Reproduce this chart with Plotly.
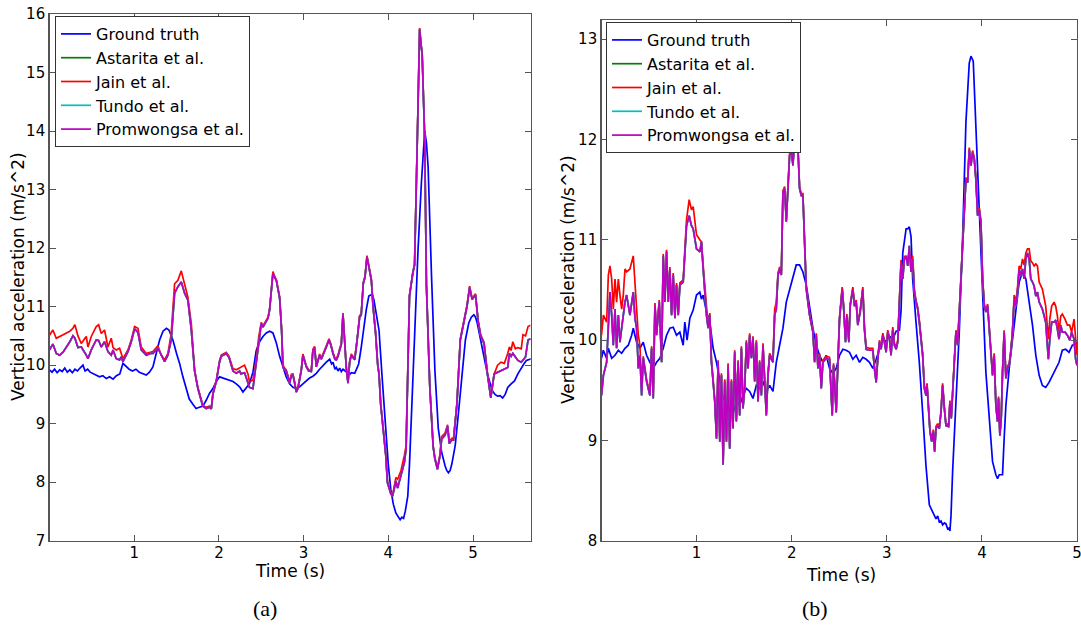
import plotly.graph_objects as go

# ---------------- (a) left panel data ----------------
t_gt_a = [0.00, 0.03, 0.06, 0.09, 0.12, 0.15, 0.18, 0.21, 0.24, 0.27,
          0.30, 0.33, 0.36, 0.395, 0.42, 0.45, 0.48, 0.51, 0.55, 0.59,
          0.63, 0.67, 0.71, 0.75, 0.79, 0.83, 0.867, 0.90, 0.94, 0.98,
          1.02, 1.06, 1.10, 1.142, 1.18, 1.221, 1.26, 1.30, 1.34, 1.38,
          1.41, 1.457, 1.50, 1.536, 1.575, 1.615, 1.65, 1.693, 1.73, 1.77,
          1.811, 1.85, 1.89, 1.929, 1.969, 2.008, 2.05, 2.087, 2.13, 2.166,
          2.205, 2.244, 2.284, 2.32, 2.36, 2.402, 2.441, 2.48, 2.52, 2.56,
          2.599, 2.638, 2.678, 2.717, 2.756, 2.795, 2.835, 2.874, 2.913, 2.953,
          2.992, 3.032, 3.07, 3.11, 3.15, 3.189, 3.23, 3.268, 3.308, 3.33,
          3.347, 3.37, 3.386, 3.406, 3.426, 3.445, 3.465, 3.504, 3.544, 3.563,
          3.603, 3.63, 3.65, 3.68, 3.71, 3.74, 3.77, 3.79, 3.81, 3.83,
          3.85, 3.89, 3.93, 3.97, 4.00, 4.03, 4.06, 4.09, 4.12, 4.14,
          4.16, 4.18, 4.20, 4.23, 4.25, 4.27, 4.31, 4.35, 4.39, 4.43,
          4.45, 4.47, 4.51, 4.55, 4.59, 4.63, 4.67, 4.69, 4.71, 4.73,
          4.75, 4.79, 4.83, 4.87, 4.91, 4.95, 4.98, 5.01, 5.03, 5.05,
          5.08, 5.11, 5.14, 5.17, 5.20, 5.23, 5.26, 5.29, 5.32, 5.35,
          5.38, 5.41, 5.45, 5.49, 5.53, 5.57, 5.60, 5.63, 5.66, 5.69]
gt_a = [9.92, 9.88, 9.93, 9.87, 9.92, 9.89, 9.95, 9.88, 9.92, 9.87,
        9.93, 9.90, 9.95, 10.00, 9.90, 9.93, 9.88, 9.86, 9.83, 9.80,
        9.82, 9.77, 9.80, 9.76, 9.82, 9.85, 10.03, 9.98, 9.93, 9.90,
        9.93, 9.88, 9.86, 9.83, 9.88, 9.97, 10.20, 10.43, 10.58, 10.63,
        10.60, 10.43, 10.20, 10.03, 9.80, 9.60, 9.42, 9.33, 9.26, 9.28,
        9.30, 9.40, 9.52, 9.60, 9.72, 9.80, 9.78, 9.77, 9.74, 9.72,
        9.68, 9.63, 9.54, 9.60, 9.68, 9.88, 10.25, 10.40, 10.49, 10.55,
        10.58, 10.55, 10.38, 10.15, 9.97, 9.80, 9.68, 9.62, 9.60, 9.63,
        9.68, 9.73, 9.78, 9.81, 9.86, 9.93, 10.00, 10.05, 10.10, 10.02,
        10.05, 9.93, 9.96, 9.90, 9.95, 9.89, 9.93, 9.88, 9.84, 9.87,
        9.86, 9.95, 10.02, 10.30, 10.66, 10.95, 11.18, 11.20, 11.21, 11.12,
        10.95, 10.60, 9.73, 8.86, 8.30, 7.87, 7.62, 7.47, 7.40, 7.36,
        7.40, 7.38, 7.50, 7.76, 8.30, 9.04, 10.78, 11.94, 13.10, 14.00,
        13.80, 13.39, 11.53, 9.91, 8.92, 8.51, 8.28, 8.20, 8.16, 8.20,
        8.31, 8.63, 9.21, 9.85, 10.43, 10.72, 10.82, 10.86, 10.82, 10.72,
        10.50, 10.31, 10.10, 9.85, 9.70, 9.56, 9.50, 9.47, 9.48, 9.44,
        9.50, 9.62, 9.68, 9.73, 9.85, 9.96, 10.02, 10.08, 10.10, 10.11]

t_est_a = [0.00, 0.04, 0.08, 0.12, 0.16, 0.20, 0.24, 0.277, 0.30, 0.336,
           0.375, 0.434, 0.454, 0.493, 0.552, 0.58, 0.611, 0.65, 0.69, 0.729,
           0.75, 0.788, 0.827, 0.847, 0.867, 0.926, 0.965, 1.005, 1.044, 1.083,
           1.142, 1.19, 1.221, 1.28, 1.319, 1.359, 1.398, 1.437, 1.477, 1.516,
           1.556, 1.575, 1.595, 1.634, 1.674, 1.713, 1.733, 1.752, 1.79, 1.811,
           1.851, 1.89, 1.91, 1.929, 1.969, 2.008, 2.028, 2.087, 2.12, 2.146,
           2.166, 2.205, 2.244, 2.26, 2.303, 2.343, 2.36, 2.402, 2.441, 2.47,
           2.50, 2.52, 2.54, 2.58, 2.599, 2.638, 2.658, 2.678, 2.697, 2.717,
           2.74, 2.756, 2.776, 2.795, 2.815, 2.835, 2.855, 2.874, 2.893, 2.913,
           2.933, 2.953, 2.972, 2.992, 3.012, 3.032, 3.06, 3.091, 3.11, 3.13,
           3.15, 3.17, 3.189, 3.209, 3.24, 3.268, 3.30, 3.32, 3.347, 3.37,
           3.386, 3.406, 3.426, 3.445, 3.465, 3.485, 3.504, 3.524, 3.544, 3.563,
           3.583, 3.603, 3.63, 3.662, 3.68, 3.705, 3.725, 3.748, 3.768, 3.788,
           3.80, 3.82, 3.85, 3.875, 3.89, 3.91, 3.95, 3.97, 3.99, 4.03,
           4.05, 4.09, 4.11, 4.15, 4.19, 4.21, 4.25, 4.29, 4.31, 4.34,
           4.37, 4.385, 4.40, 4.43, 4.45, 4.49, 4.53, 4.55, 4.58, 4.61,
           4.63, 4.67, 4.70, 4.72, 4.75, 4.77, 4.81, 4.85, 4.89, 4.93,
           4.96, 4.99, 5.03, 5.06, 5.09, 5.13, 5.17, 5.21, 5.25, 5.29,
           5.33, 5.37, 5.41, 5.43, 5.45, 5.47, 5.50, 5.53, 5.57, 5.59,
           5.62, 5.65, 5.68]
promwongsa_a = [10.26, 10.36, 10.20, 10.17, 10.22, 10.30, 10.40, 10.50, 10.46, 10.30,
                10.31, 10.17, 10.11, 10.26, 10.43, 10.42, 10.31, 10.40, 10.23, 10.17,
                10.26, 10.11, 10.09, 10.14, 10.06, 10.23, 10.40, 10.62, 10.56, 10.26,
                10.17, 10.20, 10.20, 10.29, 10.17, 10.06, 10.17, 10.43, 11.23, 11.34,
                11.42, 11.30, 11.23, 11.11, 10.60, 9.90, 9.75, 9.60, 9.40, 9.30,
                9.26, 9.28, 9.25, 9.50, 9.72, 10.06, 10.15, 10.20, 10.13, 10.00,
                9.90, 9.86, 9.90, 9.85, 9.87, 9.70, 9.62, 9.60, 10.07, 10.45,
                10.71, 10.65, 10.70, 10.80, 10.95, 11.57, 11.50, 11.45, 11.30, 11.15,
                10.60, 9.97, 9.92, 9.90, 9.80, 9.69, 9.82, 9.83, 9.70, 9.54,
                9.60, 9.74, 9.90, 10.17, 10.05, 9.97, 9.90, 9.89, 10.25, 10.30,
                9.97, 10.10, 10.17, 10.10, 10.20, 10.31, 10.43, 10.35, 10.20, 10.10,
                10.09, 10.15, 10.26, 10.35, 10.87, 10.30, 9.95, 9.69, 10.05, 10.17,
                10.12, 10.09, 10.40, 10.83, 10.85, 11.40, 11.50, 11.85, 11.70, 11.56,
                11.45, 11.00, 10.54, 10.00, 9.85, 9.33, 8.80, 8.46, 7.99, 7.80,
                7.76, 8.02, 7.90, 8.11, 8.34, 8.57, 11.18, 11.59, 11.71, 13.68,
                15.74, 15.50, 15.30, 13.85, 11.36, 9.62, 8.60, 8.40, 8.22, 8.45,
                8.74, 8.80, 8.95, 8.66, 8.72, 8.72, 9.33, 10.43, 10.75, 11.01,
                11.33, 11.12, 11.20, 10.75, 10.50, 10.37, 9.85, 9.44, 9.85, 9.88,
                9.91, 9.93, 9.96, 10.20, 10.15, 10.20, 10.14, 10.08, 10.05, 10.09,
                10.14, 10.43, 10.45]
jain_a = [10.51, 10.60, 10.46, 10.49, 10.52, 10.54, 10.58, 10.63, 10.69, 10.50,
          10.37, 10.49, 10.31, 10.49, 10.66, 10.69, 10.54, 10.60, 10.31, 10.46,
          10.30, 10.26, 10.29, 10.20, 10.11, 10.26, 10.43, 10.66, 10.63, 10.31,
          10.20, 10.22, 10.23, 10.33, 10.17, 10.09, 10.20, 10.54, 11.39, 11.45,
          11.61, 11.50, 11.39, 11.16, 10.71, 9.92, 9.76, 9.62, 9.42, 9.31,
          9.28, 9.30, 9.26, 9.52, 9.74, 10.08, 10.17, 10.22, 10.15, 10.03,
          9.94, 9.92, 9.95, 9.97, 10.00, 9.85, 9.72, 9.74, 10.10, 10.48,
          10.73, 10.67, 10.72, 10.82, 10.97, 11.60, 11.52, 11.46, 11.32, 11.17,
          10.62, 10.00, 9.95, 9.92, 9.82, 9.71, 9.84, 9.85, 9.72, 9.56,
          9.62, 9.76, 9.92, 10.19, 10.07, 9.99, 9.92, 9.91, 10.27, 10.32,
          9.99, 10.12, 10.19, 10.12, 10.22, 10.33, 10.45, 10.37, 10.22, 10.12,
          10.11, 10.17, 10.28, 10.37, 10.89, 10.32, 9.97, 9.71, 10.07, 10.19,
          10.14, 10.11, 10.42, 10.85, 10.87, 11.42, 11.52, 11.87, 11.72, 11.58,
          11.47, 11.02, 10.56, 10.02, 9.87, 9.35, 8.82, 8.48, 8.01, 7.82,
          7.78, 8.08, 8.05, 8.20, 8.46, 8.62, 11.20, 11.61, 11.73, 13.70,
          15.76, 15.52, 15.32, 13.87, 11.38, 9.64, 8.62, 8.42, 8.24, 8.48,
          8.78, 8.84, 8.98, 8.70, 8.75, 8.75, 9.35, 10.45, 10.77, 11.03,
          11.35, 11.14, 11.22, 10.77, 10.52, 10.39, 9.87, 9.46, 9.85, 10.00,
          10.05, 10.03, 10.20, 10.31, 10.25, 10.40, 10.28, 10.30, 10.28, 10.52,
          10.50, 10.66, 10.68]
astarita_a = list(promwongsa_a)
tundo_a = list(promwongsa_a)

# ---------------- (b) right panel data ----------------
t_gt_b = [0.0, 0.019, 0.054, 0.072, 0.107, 0.142, 0.177, 0.212, 0.247, 0.282,
          0.317, 0.334, 0.369, 0.404, 0.439, 0.474, 0.509, 0.544, 0.579, 0.614,
          0.649, 0.684, 0.719, 0.754, 0.789, 0.824, 0.859, 0.876, 0.9, 0.929,
          0.964, 0.999, 1.034, 1.051, 1.069, 1.104, 1.139, 1.174, 1.209, 1.244,
          1.279, 1.314, 1.348, 1.383, 1.418, 1.453, 1.488, 1.523, 1.558, 1.593,
          1.628, 1.663, 1.698, 1.733, 1.768, 1.803, 1.838, 1.873, 1.908, 1.943,
          1.978, 2.013, 2.048, 2.083, 2.118, 2.153, 2.188, 2.223, 2.258, 2.293,
          2.328, 2.363, 2.398, 2.433, 2.468, 2.503, 2.538, 2.573, 2.608, 2.643,
          2.678, 2.713, 2.748, 2.783, 2.818, 2.853, 2.888, 2.923, 2.958, 2.993,
          3.028, 3.063, 3.098, 3.133, 3.15, 3.168, 3.203, 3.22, 3.237, 3.255,
          3.272, 3.307, 3.342, 3.377, 3.412, 3.447, 3.482, 3.517, 3.535, 3.552,
          3.57, 3.587, 3.605, 3.622, 3.64, 3.657, 3.664, 3.675, 3.692, 3.727,
          3.762, 3.797, 3.832, 3.867, 3.885, 3.909, 3.937, 3.972, 4.007, 4.042,
          4.077, 4.112, 4.147, 4.165, 4.182, 4.217, 4.234, 4.252, 4.287, 4.322,
          4.357, 4.392, 4.427, 4.462, 4.497, 4.532, 4.567, 4.602, 4.636, 4.671,
          4.706, 4.741, 4.776, 4.811, 4.846, 4.881, 4.916, 4.951, 4.986, 5.0]
gt_b = [9.82, 9.90, 9.82, 9.92, 9.82, 9.85, 9.90, 9.87, 9.92, 9.95,
        10.05, 10.12, 9.98, 9.92, 9.98, 9.85, 9.78, 9.72, 9.78, 9.82,
        9.92, 10.05, 10.12, 10.13, 10.05, 10.08, 9.95, 10.18, 10.00, 10.22,
        10.30, 10.45, 10.48, 10.41, 10.45, 10.28, 10.18, 9.92, 9.78, 9.59,
        9.42, 9.39, 9.32, 9.27, 9.39, 9.35, 9.45, 9.52, 9.49, 9.42,
        9.55, 9.52, 9.59, 9.49, 9.55, 9.49, 9.78, 9.95, 10.12, 10.38,
        10.51, 10.65, 10.75, 10.75, 10.68, 10.55, 10.31, 10.12, 9.95, 9.85,
        9.78, 9.85, 9.72, 9.67, 9.72, 9.85, 9.91, 9.90, 9.88, 9.81,
        9.85, 9.78, 9.83, 9.81, 9.78, 9.72, 9.81, 9.91, 10.01, 9.99,
        10.04, 10.01, 10.09, 10.10, 10.30, 10.87, 11.11, 11.11, 11.13, 11.03,
        10.61, 10.18, 9.78, 9.28, 8.75, 8.36, 8.29, 8.22, 8.25, 8.19,
        8.20, 8.16, 8.18, 8.17, 8.12, 8.13, 8.10, 8.25, 8.69, 9.35,
        10.08, 11.01, 12.17, 12.76, 12.83, 12.78, 12.17, 11.34, 10.48, 9.68,
        9.19, 8.79, 8.66, 8.62, 8.66, 8.66, 9.02, 9.35, 9.72, 10.01,
        10.34, 10.58, 10.68, 10.61, 10.38, 10.15, 9.85, 9.65, 9.55, 9.53,
        9.58, 9.65, 9.72, 9.78, 9.90, 9.91, 9.88, 9.95, 9.96, 9.98]

t_est_b = [0.0, 0.02, 0.054, 0.072, 0.089, 0.107, 0.124, 0.142, 0.159, 0.177,
           0.194, 0.212, 0.229, 0.247, 0.264, 0.299, 0.334, 0.352, 0.369, 0.387,
           0.404, 0.422, 0.439, 0.474, 0.509, 0.527, 0.544, 0.562, 0.579, 0.607,
           0.632, 0.649, 0.667, 0.684, 0.702, 0.719, 0.737, 0.754, 0.772, 0.789,
           0.807, 0.824, 0.859, 0.894, 0.922, 0.946, 0.964, 0.999, 1.034, 1.051,
           1.069, 1.086, 1.104, 1.121, 1.139, 1.156, 1.174, 1.191, 1.209, 1.226,
           1.244, 1.261, 1.279, 1.296, 1.314, 1.331, 1.348, 1.366, 1.383, 1.401,
           1.418, 1.436, 1.453, 1.471, 1.488, 1.506, 1.523, 1.541, 1.558, 1.576,
           1.593, 1.611, 1.628, 1.646, 1.663, 1.681, 1.698, 1.733, 1.751, 1.768,
           1.803, 1.821, 1.838, 1.856, 1.873, 1.891, 1.908, 1.926, 1.943, 1.961,
           1.978, 1.996, 2.013, 2.031, 2.048, 2.066, 2.083, 2.101, 2.118, 2.153,
           2.188, 2.223, 2.241, 2.258, 2.276, 2.293, 2.311, 2.328, 2.363, 2.398,
           2.415, 2.426, 2.44, 2.454, 2.468, 2.485, 2.503, 2.531, 2.545, 2.566,
           2.58, 2.601, 2.615, 2.643, 2.66, 2.678, 2.695, 2.72, 2.748, 2.765,
           2.783, 2.818, 2.853, 2.87, 2.888, 2.905, 2.923, 2.94, 2.958, 2.975,
           2.993, 3.01, 3.028, 3.045, 3.063, 3.08, 3.098, 3.115, 3.133, 3.15,
           3.168, 3.185, 3.203, 3.22, 3.237, 3.255, 3.272, 3.29, 3.307, 3.325,
           3.342, 3.36, 3.377, 3.395, 3.412, 3.423, 3.437, 3.454, 3.472, 3.489,
           3.503, 3.517, 3.535, 3.552, 3.57, 3.587, 3.605, 3.622, 3.65, 3.664,
           3.678, 3.692, 3.71, 3.727, 3.745, 3.762, 3.78, 3.797, 3.815, 3.832,
           3.85, 3.867, 3.885, 3.902, 3.92, 3.937, 3.955, 3.972, 3.99, 4.007,
           4.025, 4.042, 4.06, 4.077, 4.094, 4.112, 4.129, 4.147, 4.164, 4.175,
           4.189, 4.203, 4.217, 4.234, 4.252, 4.269, 4.287, 4.304, 4.322, 4.339,
           4.357, 4.374, 4.392, 4.409, 4.427, 4.444, 4.462, 4.479, 4.497, 4.514,
           4.532, 4.549, 4.567, 4.584, 4.602, 4.619, 4.636, 4.671, 4.689, 4.699,
           4.714, 4.734, 4.759, 4.776, 4.794, 4.811, 4.829, 4.846, 4.874, 4.899,
           4.923, 4.944, 4.969, 4.986, 5.0]
promwongsa_b = [9.45, 9.65, 9.78, 10.12, 10.48, 10.25, 9.95, 10.31, 9.92, 10.25,
                9.98, 10.12, 10.25, 10.38, 10.45, 10.25, 10.48, 10.22, 10.12, 9.72,
                9.85, 9.45, 9.82, 9.59, 9.45, 9.92, 9.42, 10.35, 10.05, 10.38,
                9.78, 10.84, 10.38, 10.88, 10.38, 10.71, 10.25, 10.65, 10.22, 10.55,
                10.25, 10.55, 10.58, 11.14, 11.24, 11.14, 11.11, 10.91, 10.88, 10.98,
                10.71, 10.48, 10.25, 10.12, 10.25, 9.78, 9.59, 9.39, 9.02, 9.78,
                8.99, 9.65, 8.76, 9.59, 8.99, 9.75, 8.92, 9.59, 9.12, 9.88,
                9.19, 9.78, 9.25, 9.92, 9.32, 9.52, 9.98, 9.72, 10.05, 9.82,
                10.02, 9.59, 9.98, 9.39, 9.78, 9.45, 9.95, 9.25, 9.65, 9.85,
                9.78, 10.25, 10.31, 10.65, 10.71, 10.65, 11.47, 11.51, 11.18, 11.57,
                11.84, 11.90, 11.74, 12.00, 11.97, 11.90, 11.51, 11.44, 11.44, 10.51,
                10.25, 10.08, 9.78, 10.05, 9.72, 9.85, 9.52, 9.78, 9.82, 9.81,
                9.52, 9.25, 9.75, 9.48, 9.28, 9.75, 10.21, 10.51, 10.34, 9.98,
                10.24, 9.98, 10.34, 10.51, 10.34, 10.38, 10.15, 10.28, 10.51, 10.11,
                9.91, 9.90, 9.90, 9.72, 9.58, 9.81, 9.98, 9.91, 10.05, 9.98,
                9.88, 10.08, 10.01, 9.85, 10.11, 9.95, 9.91, 9.98, 10.34, 10.77,
                10.61, 10.81, 10.84, 10.74, 10.94, 10.68, 10.81, 10.48, 10.38, 10.31,
                10.18, 9.98, 9.85, 9.52, 9.45, 9.55, 9.32, 9.09, 8.99, 9.09,
                8.89, 9.12, 9.15, 9.12, 9.28, 9.55, 9.32, 9.15, 9.14, 9.38,
                9.22, 9.48, 9.81, 10.08, 9.95, 10.34, 10.61, 10.94, 11.27, 11.60,
                11.57, 11.90, 11.74, 11.87, 11.80, 11.60, 11.24, 11.30, 11.17, 10.61,
                10.34, 10.28, 10.34, 10.11, 9.81, 9.65, 9.85, 9.35, 9.19, 9.42,
                9.05, 9.22, 9.68, 10.08, 9.62, 9.72, 9.75, 9.88, 10.08, 10.41,
                10.34, 10.48, 10.71, 10.64, 10.71, 10.61, 10.81, 10.87, 10.81, 10.61,
                10.58, 10.54, 10.44, 10.48, 10.38, 10.34, 10.31, 10.18, 9.91, 9.81,
                10.01, 10.18, 10.18, 10.20, 10.11, 10.01, 10.15, 10.08, 10.08, 10.05,
                10.00, 10.08, 10.01, 9.81, 9.75]
jain_b = [10.05, 10.25, 10.18, 10.65, 10.74, 10.61, 10.31, 10.61, 10.38, 10.61,
          10.45, 10.31, 10.45, 10.71, 10.68, 10.71, 10.84, 10.55, 10.38, 10.05,
          9.95, 9.55, 9.84, 9.61, 9.47, 9.94, 9.44, 10.37, 10.07, 10.40,
          9.80, 10.86, 10.40, 10.90, 10.40, 10.73, 10.27, 10.67, 10.24, 10.57,
          10.27, 10.57, 10.60, 11.20, 11.40, 11.30, 11.33, 11.05, 11.00, 10.98,
          10.75, 10.52, 10.30, 10.14, 10.27, 9.80, 9.61, 9.41, 9.04, 9.80,
          9.01, 9.67, 8.78, 9.61, 9.01, 9.77, 8.94, 9.61, 9.14, 9.90,
          9.21, 9.80, 9.27, 9.94, 9.34, 9.54, 10.00, 9.74, 10.07, 9.84,
          10.04, 9.61, 10.00, 9.41, 9.80, 9.47, 9.97, 9.27, 9.67, 9.87,
          9.80, 10.31, 10.38, 10.67, 10.73, 10.67, 11.49, 11.53, 11.20, 11.59,
          11.86, 11.92, 11.76, 12.02, 11.99, 11.92, 11.53, 11.46, 11.46, 10.53,
          10.27, 10.10, 9.80, 10.07, 9.74, 9.87, 9.54, 9.80, 9.84, 9.83,
          9.54, 9.27, 9.77, 9.50, 9.30, 9.77, 10.23, 10.53, 10.36, 10.00,
          10.26, 10.00, 10.36, 10.53, 10.36, 10.40, 10.17, 10.30, 10.53, 10.13,
          9.93, 9.92, 9.92, 9.74, 9.60, 9.83, 10.00, 9.93, 10.07, 10.00,
          9.90, 10.10, 10.03, 9.87, 10.13, 9.97, 9.93, 10.00, 10.36, 10.80,
          10.65, 10.84, 10.81, 10.80, 10.87, 10.72, 10.84, 10.50, 10.40, 10.33,
          10.20, 10.00, 9.87, 9.55, 9.47, 9.57, 9.34, 9.11, 9.01, 9.11,
          8.91, 9.14, 9.17, 9.14, 9.30, 9.57, 9.34, 9.17, 9.16, 9.40,
          9.24, 9.50, 9.83, 10.10, 9.97, 10.36, 10.63, 10.96, 11.29, 11.62,
          11.59, 11.92, 11.76, 11.89, 11.82, 11.62, 11.26, 11.32, 11.19, 10.63,
          10.36, 10.30, 10.36, 10.13, 9.83, 9.67, 9.87, 9.37, 9.21, 9.44,
          9.07, 9.24, 9.70, 10.10, 9.64, 9.74, 9.77, 9.90, 10.10, 10.45,
          10.38, 10.52, 10.74, 10.71, 10.81, 10.75, 10.87, 10.91, 10.91, 10.79,
          10.77, 10.74, 10.76, 10.74, 10.58, 10.54, 10.51, 10.34, 10.11, 10.01,
          10.21, 10.34, 10.38, 10.34, 10.24, 10.08, 10.24, 10.26, 10.21, 10.15,
          10.15, 10.08, 10.21, 10.01, 9.85]
astarita_b = list(promwongsa_b)
tundo_b = list(promwongsa_b)

series_names = ["Ground truth", "Astarita et al.", "Jain et al.", "Tundo et al.", "Promwongsa et al."]
series_colors = ["#0000ff", "#008000", "#ff0000", "#00bfbf", "#bf00bf"]
y_title = "Vertical acceleration (m/s^2)"
x_title = "Time (s)"
captions = ["(a)", "(b)"]

panel_a = [(t_gt_a, gt_a), (t_est_a, astarita_a), (t_est_a, jain_a), (t_est_a, tundo_a), (t_est_a, promwongsa_a)]
panel_b = [(t_gt_b, gt_b), (t_est_b, astarita_b), (t_est_b, jain_b), (t_est_b, tundo_b), (t_est_b, promwongsa_b)]

W, H = 1081, 626
def px(x):
    return x / W
def py(y):
    return 1 - y / H

FONT = "DejaVu Sans"
fig = go.Figure()
for (tx, ty), name, col in zip(panel_a, series_names, series_colors):
    fig.add_trace(go.Scatter(x=tx, y=ty, mode="lines", name=name,
                             line=dict(color=col, width=1.7),
                             xaxis="x", yaxis="y", legend="legend"))
for (tx, ty), name, col in zip(panel_b, series_names, series_colors):
    fig.add_trace(go.Scatter(x=tx, y=ty, mode="lines", name=name,
                             line=dict(color=col, width=1.7),
                             xaxis="x2", yaxis="y2", legend="legend2"))

axis_common = dict(showline=True, linecolor="#555555", linewidth=1.3, mirror="ticks",
                   ticks="inside", ticklen=6, tickcolor="#555555", showgrid=False,
                   zeroline=False, automargin=False, ticklabeloverflow="allow",
                   tickfont=dict(family=FONT, size=15, color="black"))
x_extra = dict(ticklabelstandoff=-2)

legend_common = dict(xanchor="left", yanchor="top", bgcolor="white",
                     bordercolor="#333333", borderwidth=1,
                     font=dict(family=FONT, size=16, color="black"),
                     itemwidth=30, tracegroupgap=0)

def label(text, x, y, size=17, family=FONT, angle=0):
    return dict(text=text, x=px(x), y=py(y), xref="paper", yref="paper",
                xanchor="center", yanchor="middle", textangle=angle,
                showarrow=False, font=dict(family=family, size=size, color="black"))

fig.update_layout(
    width=W, height=H, autosize=False,
    margin=dict(l=0, r=0, t=0, b=0, pad=0),
    paper_bgcolor="white", plot_bgcolor="white",
    font=dict(family=FONT, color="black"),
    xaxis=dict(domain=[px(49.5), px(530.6)], range=[0.0, 5.68], tickvals=[1, 2, 3, 4, 5],
               anchor="y", **axis_common, **x_extra),
    yaxis=dict(domain=[py(540.7), py(14)], range=[7, 16], tickvals=list(range(7, 17)),
               anchor="x", **axis_common),
    xaxis2=dict(domain=[px(601.5), px(1077)], range=[0.0, 5.0], tickvals=[1, 2, 3, 4, 5],
                anchor="y2", **axis_common, **x_extra),
    yaxis2=dict(domain=[py(541), py(20)], range=[8, 13.19], tickvals=list(range(8, 14)),
                anchor="x2", **axis_common),
    legend=dict(x=px(55), y=py(16), **legend_common),
    legend2=dict(x=px(606), y=py(22), **legend_common),
    annotations=[
        label(x_title, 290, 571),
        label(x_title, 841, 575),
        label(y_title, 18, 277, angle=-90),
        label(y_title, 568, 280, angle=-90),
        label(captions[0], 265, 608, size=22, family="Liberation Serif"),
        label(captions[1], 815, 608, size=22, family="Liberation Serif"),
    ],
)

# remove the default 8 px page margin so the 1081x626 figure fills the window exactly
fig.write_html("out.html",
               config={"displayModeBar": False, "staticPlot": True},
               post_script="document.body.style.margin='0';document.body.style.padding='0';")
